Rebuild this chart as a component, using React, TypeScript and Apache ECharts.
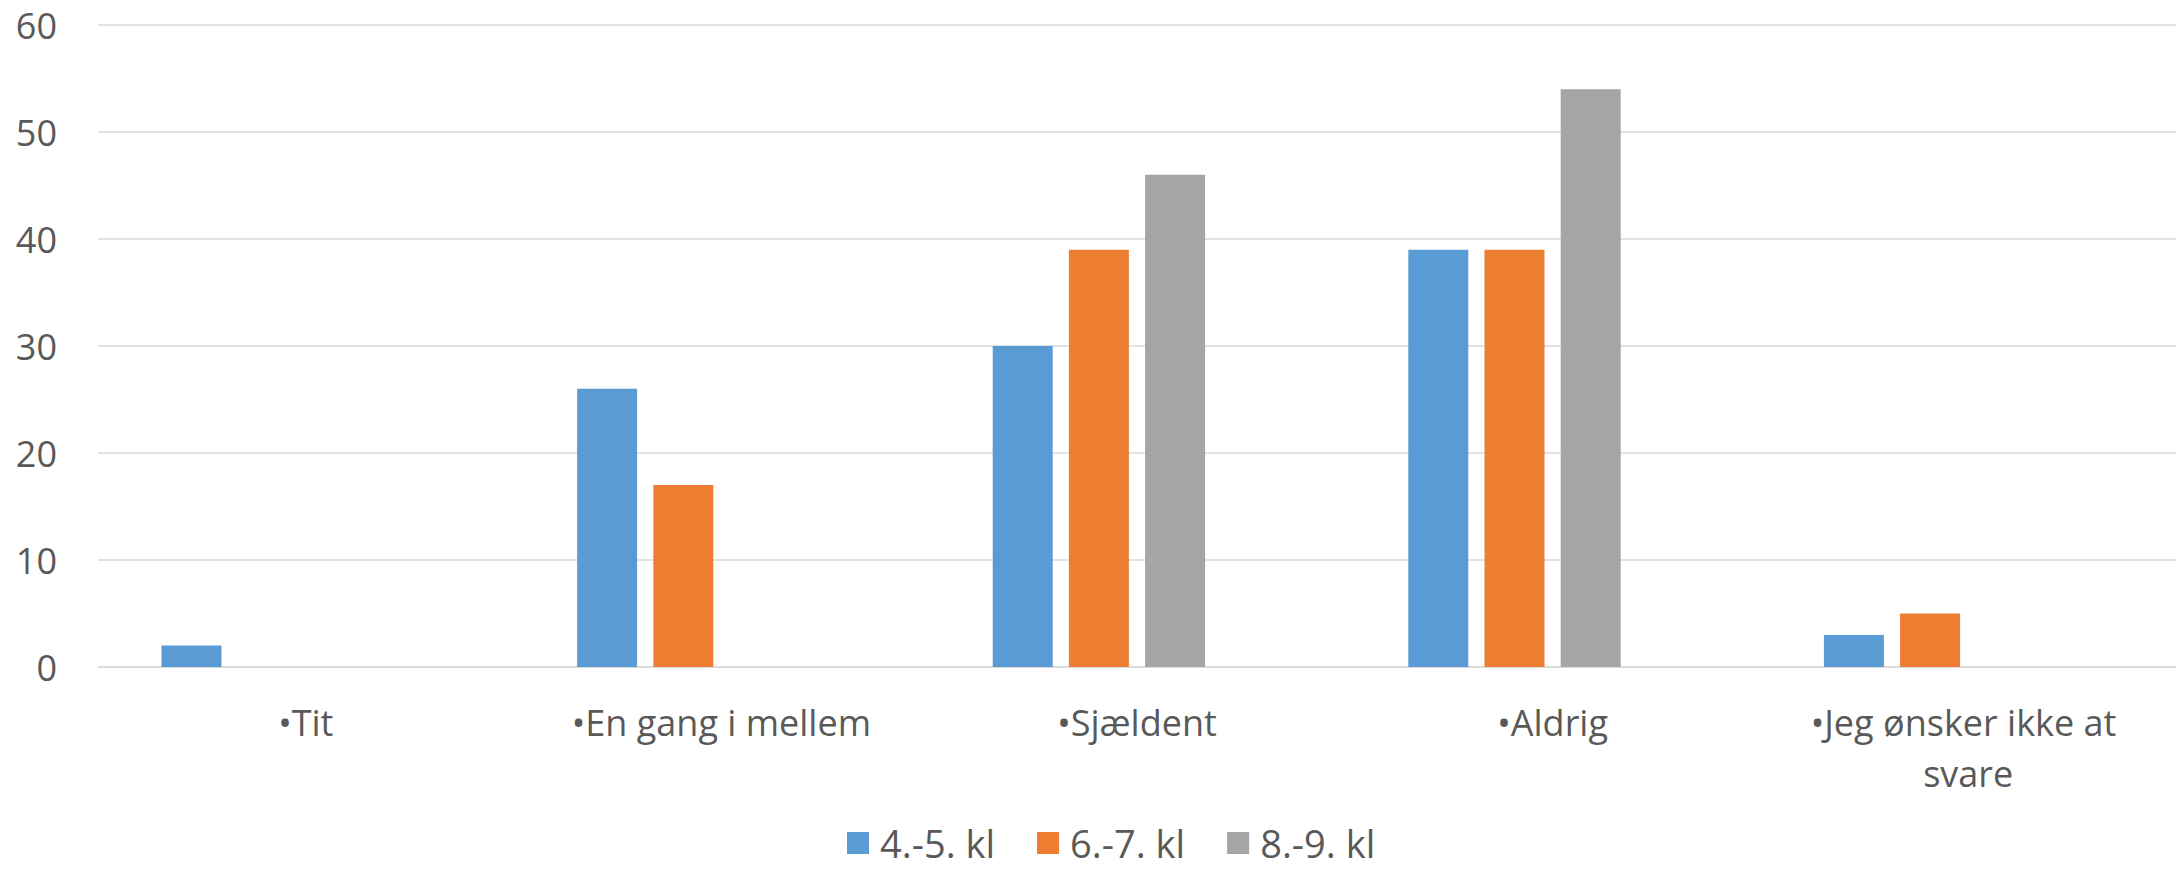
import React, { useEffect, useRef } from "react";
import * as echarts from "echarts";

const categories = ["•Tit", "•En gang i mellem", "•Sjældent", "•Aldrig", "•Jeg ønsker ikke at svare"];
const seriesNames = ["4.-5. kl", "6.-7. kl", "8.-9. kl"];
const values45 = [2, 26, 30, 39, 3];
const values67 = [null, 17, 39, 39, 5];
const values89 = [null, null, 46, 54, null];
const emptySeries = [null, null, null, null, null];
const colors = ["#5B9BD5", "#ED7D31", "#A5A5A5"];

export default function App() {
  const ref = useRef<HTMLDivElement>(null);
  useEffect(() => {
    if (!ref.current) return;
    const chart = echarts.init(ref.current, undefined, { renderer: "svg" });
    const font = "'Open Sans', sans-serif";
    const dataSets = [values45, values67, values89];
    chart.setOption({
      animation: false,
      backgroundColor: "#ffffff",
      textStyle: { fontFamily: font },
      grid: { left: 98, right: 4, top: 25, bottom: 202, containLabel: false },
      legend: {
        data: seriesNames,
        bottom: 2,
        left: 842,
        itemWidth: 22,
        itemHeight: 22,
        itemGap: 42,
        icon: "rect",
        textStyle: { fontFamily: font, fontSize: 38, color: "#595959", padding: [0, 0, 0, 6] },
      },
      xAxis: {
        type: "category",
        data: categories,
        axisTick: { show: false },
        axisLine: { lineStyle: { color: "#d9d9d9", width: 1.5 } },
        axisLabel: {
          interval: 0,
          fontFamily: font,
          fontSize: 36,
          color: "#595959",
          margin: 30,
          lineHeight: 51,
          width: 400,
          overflow: "break",
        },
      },
      yAxis: {
        type: "value",
        min: 0,
        max: 60,
        interval: 10,
        axisLine: { show: false },
        axisTick: { show: false },
        splitLine: { lineStyle: { color: "#d9d9d9", width: 1.5 } },
        axisLabel: { fontFamily: font, fontSize: 36, color: "#595959", margin: 41 },
      },
      series: [
        ...seriesNames.map((name, i) => ({
          name,
          type: "bar",
          data: dataSets[i],
          barWidth: 60,
          barGap: "27%",
          itemStyle: { color: colors[i] },
        })),
        {
          name: "",
          type: "bar",
          data: emptySeries,
          barWidth: 60,
          barGap: "27%",
        },
      ],
    });
    return () => chart.dispose();
  }, []);
  return (
    <div
      ref={ref}
      style={{ position: "fixed", left: 0, top: 0, width: 2180, height: 869, background: "#fff" }}
    />
  );
}
